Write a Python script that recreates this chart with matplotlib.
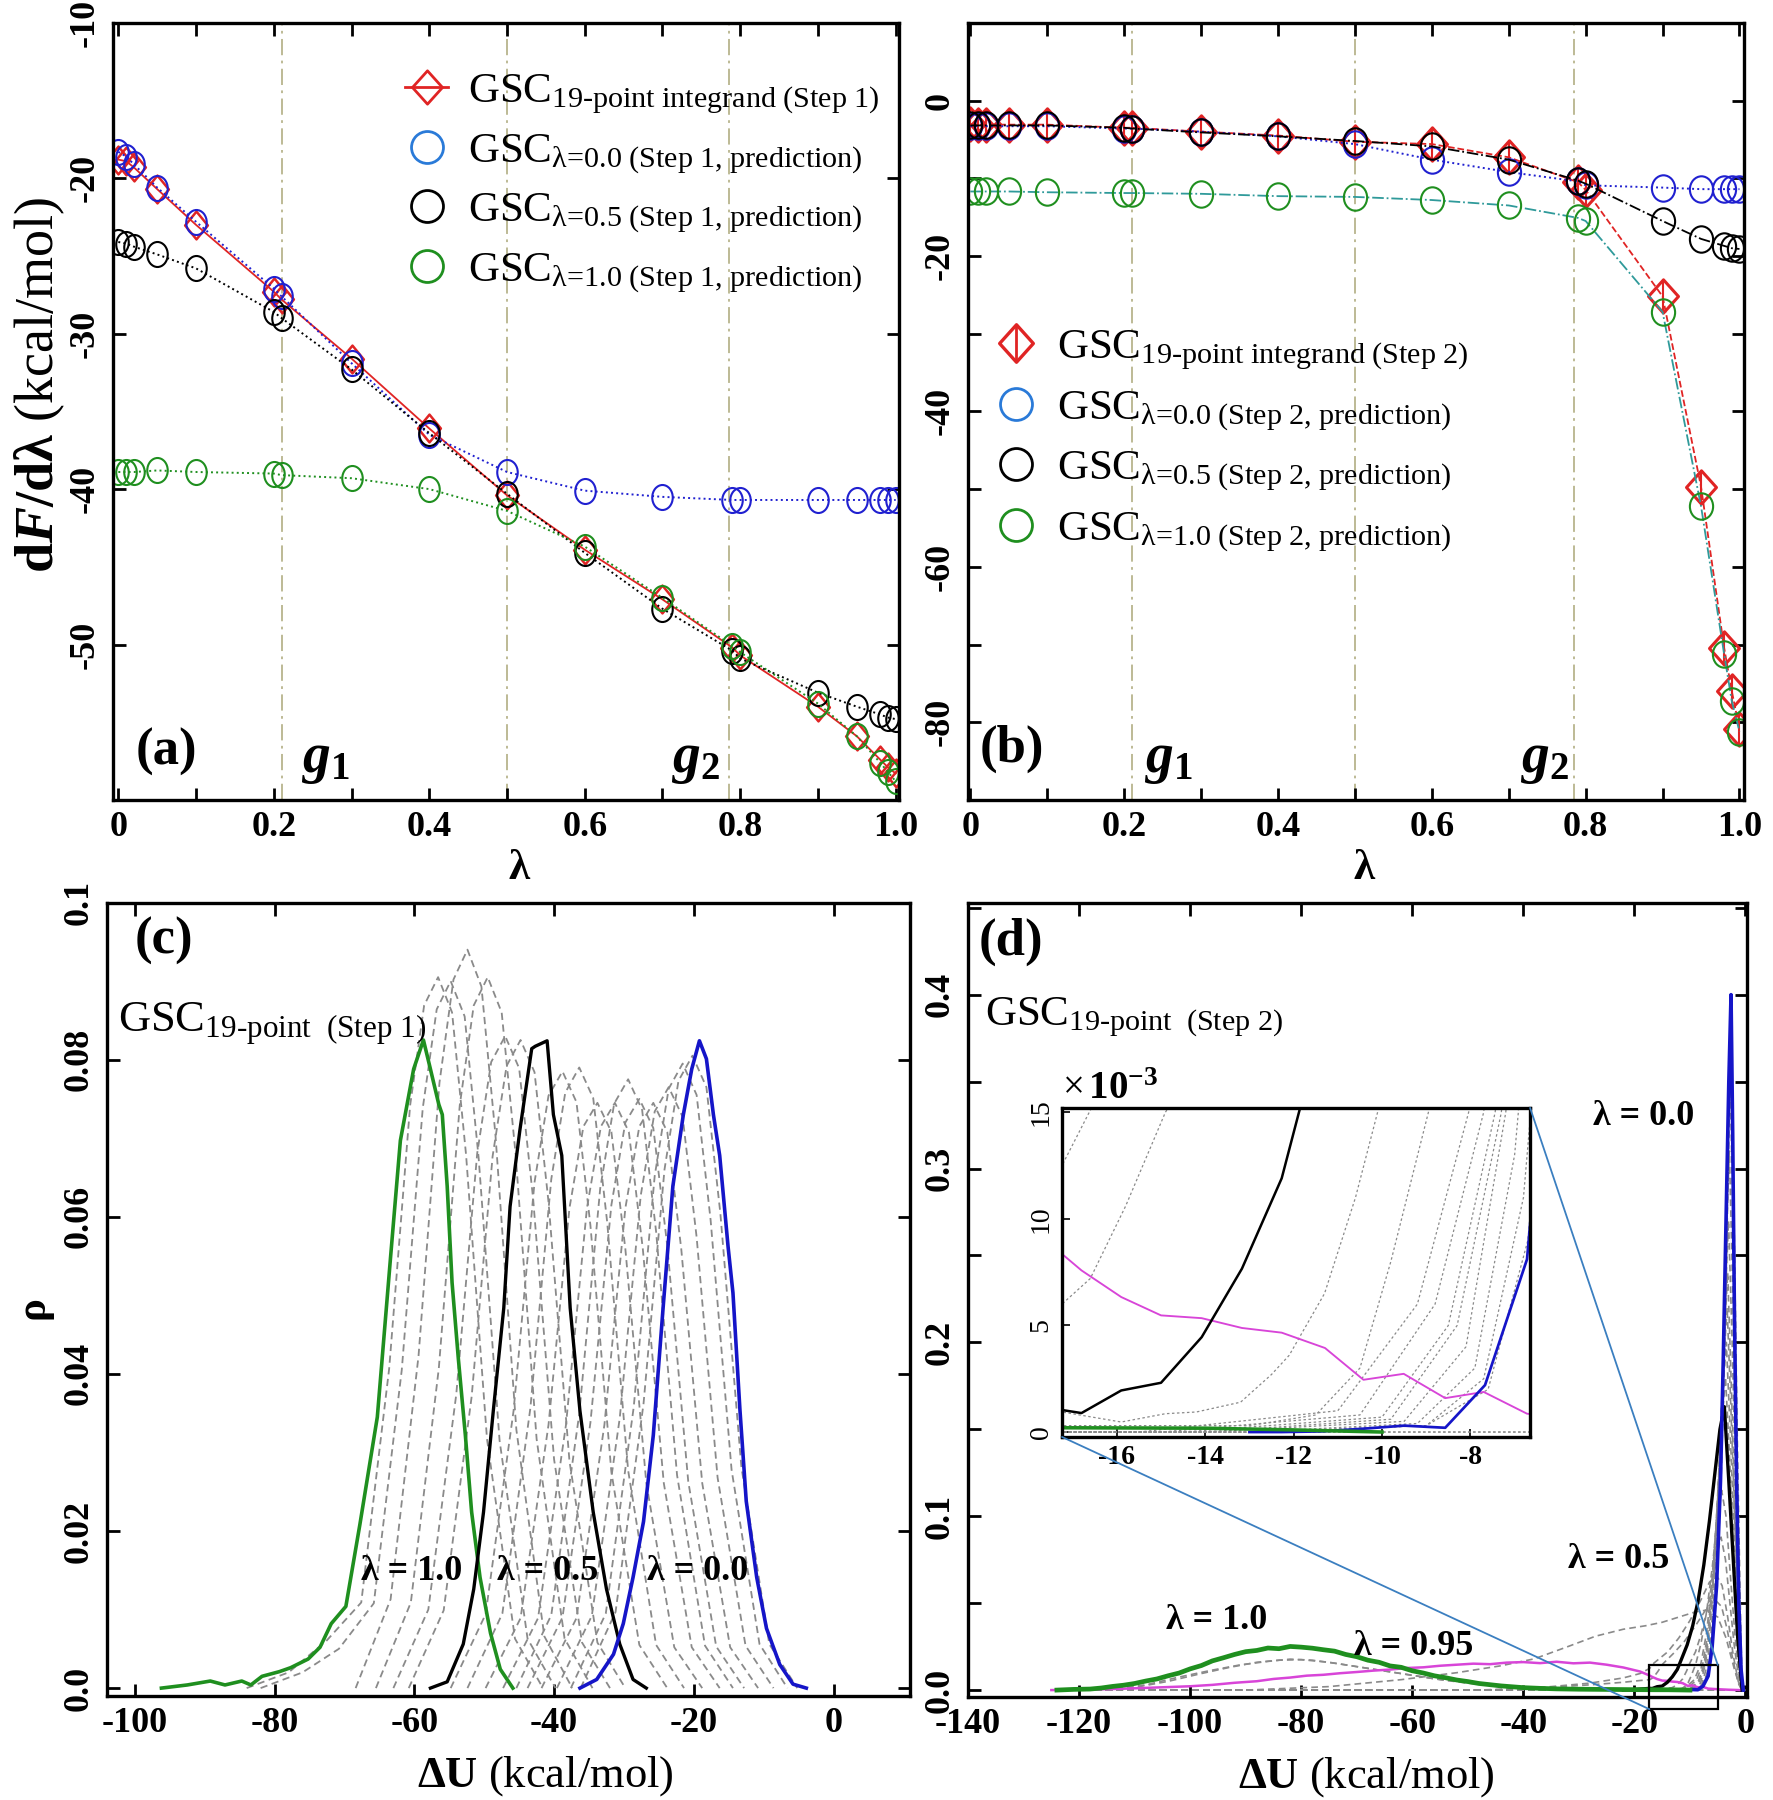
import matplotlib
matplotlib.use("Agg")
import matplotlib.pyplot as plt
import numpy as np
from matplotlib.lines import Line2D
from matplotlib.patches import Rectangle, ConnectionPatch
from matplotlib.path import Path
from matplotlib.transforms import Affine2D

plt.rcParams['font.family'] = ['Liberation Serif', 'DejaVu Serif']
plt.rcParams['mathtext.fontset'] = 'custom'
plt.rcParams['mathtext.rm'] = 'Liberation Serif'
plt.rcParams['mathtext.it'] = 'Liberation Serif:italic'
plt.rcParams['mathtext.bf'] = 'Liberation Serif:bold'
plt.rcParams['mathtext.bfit'] = 'Liberation Serif:italic:bold'

# ---------------- data: panels (a) and (b) ----------------
lam = [0, 0.01, 0.02, 0.05, 0.1, 0.2, 0.21, 0.3, 0.4, 0.5, 0.6, 0.7, 0.79, 0.8, 0.9, 0.95, 0.98, 0.99, 1.0]
g_lines = [0.21, 0.5, 0.785]

s1_integrand = [-18.8, -18.9, -19.3, -20.7, -23.0, -27.3, -27.8, -31.6, -36.1, -40.4, -43.9, -47.1, -50.2, -50.7, -54.0, -55.9, -57.4, -57.9, -58.3]
s1_pred00 = [-18.3, -18.6, -19.1, -20.6, -22.8, -27.1, -27.6, -31.9, -36.5, -38.9, -40.1, -40.5, -40.7, -40.7, -40.7, -40.7, -40.7, -40.7, -40.7]
s1_pred05 = [-24.1, -24.2, -24.4, -24.9, -25.8, -28.6, -29.0, -32.3, -36.4, -40.3, -44.1, -47.7, -50.4, -50.9, -53.1, -54.0, -54.5, -54.7, -54.8]
s1_pred10 = [-38.9, -38.9, -38.9, -38.8, -38.9, -39.0, -39.1, -39.3, -40.0, -41.4, -43.7, -47.0, -50.1, -50.5, -53.8, -55.9, -57.6, -58.2, -58.8]

s2_integrand = [-3.0, -3.1, -3.1, -3.1, -3.1, -3.5, -3.5, -4.0, -4.5, -5.3, -5.6, -7.3, -10.5, -11.5, -25.2, -49.7, -70.4, -76.0, -80.9]
s2_pred00 = [-3.3, -3.3, -3.3, -3.3, -3.3, -3.6, -3.6, -4.0, -4.6, -5.6, -7.6, -9.2, -10.4, -10.9, -11.2, -11.4, -11.4, -11.4, -11.4]
s2_pred05 = [-3.2, -3.2, -3.2, -3.2, -3.2, -3.5, -3.6, -4.1, -4.6, -5.2, -5.9, -7.6, -10.3, -10.7, -15.5, -17.8, -18.7, -19.0, -19.1]
s2_pred10 = [-11.7, -11.7, -11.7, -11.7, -11.8, -11.9, -11.9, -12.0, -12.3, -12.4, -12.8, -13.5, -15.1, -15.5, -27.2, -52.2, -71.2, -77.3, -81.2]

legend_a = [r'GSC$_{\text{19-point integrand (Step 1)}}$',
            r'GSC$_{\text{λ=0.0 (Step 1, prediction)}}$',
            r'GSC$_{\text{λ=0.5 (Step 1, prediction)}}$',
            r'GSC$_{\text{λ=1.0 (Step 1, prediction)}}$']
legend_b = [r'GSC$_{\text{19-point integrand (Step 2)}}$',
            r'GSC$_{\text{λ=0.0 (Step 2, prediction)}}$',
            r'GSC$_{\text{λ=0.5 (Step 2, prediction)}}$',
            r'GSC$_{\text{λ=1.0 (Step 2, prediction)}}$']

# ---------------- data: panel (c), step 1 distributions ----------------
c_green_x = [-96.2, -92.5, -89.2, -87.1, -84.7, -83.4, -81.8, -79.3, -77.7, -75.2, -73.5, -71.9, -69.8, -67.8, -65.3, -63.4, -62.0, -60.1, -58.7, -57.7, -56.5, -56.0, -55.3, -54.6, -53.7, -52.7, -51.8, -50.6, -49.1, -47.7, -45.9]
c_green_y = [0, 0.0004, 0.0009, 0.0004, 0.0009, 0.0004, 0.0015, 0.0021, 0.0026, 0.0037, 0.0052, 0.0082, 0.0104, 0.0208, 0.0345, 0.0549, 0.0697, 0.0788, 0.0825, 0.0788, 0.0743, 0.0730, 0.0639, 0.0516, 0.0419, 0.0322, 0.0224, 0.0141, 0.0070, 0.0024, 0]
c_black_x = [-57.7, -55.3, -53.0, -51.5, -50.1, -48.7, -47.2, -46.3, -44.9, -43.2, -42.7, -41.0, -40.1, -38.9, -37.7, -36.3, -34.4, -32.5, -30.6, -28.7, -26.8]
c_black_y = [0, 0.0008, 0.0056, 0.0126, 0.0224, 0.0353, 0.0484, 0.0613, 0.0710, 0.0814, 0.0817, 0.0824, 0.0730, 0.0678, 0.0484, 0.0353, 0.0224, 0.0126, 0.0056, 0.0011, 0]
c_blue_x = [-36.3, -33.9, -31.5, -30.1, -28.7, -27.2, -25.8, -24.4, -23.0, -21.5, -20.3, -19.2, -18.2, -17.2, -16.3, -15.1, -14.4, -13.4, -12.5, -11.0, -9.6, -7.7, -5.8, -3.9]
c_blue_y = [0, 0.0011, 0.0043, 0.0082, 0.0141, 0.0212, 0.0322, 0.0484, 0.0639, 0.0730, 0.0788, 0.0824, 0.0801, 0.0730, 0.0678, 0.0562, 0.0503, 0.0354, 0.0238, 0.0141, 0.0076, 0.0030, 0.0005, 0]

c_gray = [
    ([-84, -78, -72.6, -67.6, -63.6, -60.6, -58.6, -56.6, -54.6, -52.6, -49.6, -45.6, -41.6],
     [0, 0.002, 0.006, 0.0109, 0.0407, 0.0742, 0.0869, 0.0905, 0.086, 0.0679, 0.0317, 0.0063, 0]),
    ([-82, -76, -70.8, -65.8, -61.8, -58.8, -56.8, -54.8, -52.8, -50.8, -47.8, -43.8, -39.8],
     [0, 0.002, 0.005, 0.0108, 0.0405, 0.0738, 0.0864, 0.090, 0.0855, 0.0675, 0.0315, 0.0063, 0]),
    ([-68.4, -63.4, -59.4, -56.4, -54.4, -52.4, -50.4, -48.4, -45.4, -41.4, -37.4],
     [0, 0.0113, 0.0423, 0.0771, 0.0902, 0.094, 0.0893, 0.0705, 0.0329, 0.0066, 0]),
    ([-65.5, -60.5, -56.5, -53.5, -51.5, -49.5, -47.5, -45.5, -42.5, -38.5, -34.5],
     [0, 0.0109, 0.0407, 0.0742, 0.0869, 0.0905, 0.086, 0.0679, 0.0317, 0.0063, 0]),
    ([-63, -58, -54, -51, -49, -47, -45, -43, -40, -36, -32],
     [0, 0.010, 0.0374, 0.0681, 0.0797, 0.083, 0.0789, 0.0623, 0.0291, 0.0058, 0]),
    ([-60.8, -55.8, -51.8, -48.8, -46.8, -44.8, -42.8, -40.8, -37.8, -33.8, -29.8],
     [0, 0.0099, 0.0371, 0.0677, 0.0792, 0.0825, 0.0784, 0.0619, 0.0289, 0.0058, 0]),
    ([-54.8, -49.8, -45.8, -42.8, -40.8, -38.8, -36.8, -34.8, -31.8, -27.8, -23.8],
     [0, 0.0094, 0.0353, 0.0644, 0.0754, 0.0785, 0.0746, 0.0589, 0.0275, 0.0055, 0]),
    ([-52.4, -47.4, -43.4, -40.4, -38.4, -36.4, -34.4, -32.4, -29.4, -25.4, -21.4],
     [0, 0.0095, 0.0356, 0.0648, 0.0758, 0.079, 0.0751, 0.0593, 0.0277, 0.0055, 0]),
    ([-49.8, -44.8, -40.8, -37.8, -35.8, -33.8, -31.8, -29.8, -26.8, -22.8, -18.8],
     [0, 0.0089, 0.0335, 0.0611, 0.0715, 0.0745, 0.0708, 0.0559, 0.0261, 0.0052, 0]),
    ([-47.3, -42.3, -38.3, -35.3, -33.3, -31.3, -29.3, -27.3, -24.3, -20.3, -16.3],
     [0, 0.0089, 0.0335, 0.0611, 0.0715, 0.0745, 0.0708, 0.0559, 0.0261, 0.0052, 0]),
    ([-45.4, -40.4, -36.4, -33.4, -31.4, -29.4, -27.4, -25.4, -22.4, -18.4, -14.4],
     [0, 0.0093, 0.0349, 0.0636, 0.0744, 0.0775, 0.0736, 0.0581, 0.0271, 0.0054, 0]),
    ([-43.8, -38.8, -34.8, -31.8, -29.8, -27.8, -25.8, -23.8, -20.8, -16.8, -12.8],
     [0, 0.009, 0.0338, 0.0615, 0.072, 0.075, 0.0713, 0.0563, 0.0263, 0.0053, 0]),
    ([-41.8, -36.8, -32.8, -29.8, -27.8, -25.8, -23.8, -21.8, -18.8, -14.8, -10.8],
     [0, 0.0089, 0.0335, 0.0611, 0.0715, 0.0745, 0.0708, 0.0559, 0.0261, 0.0052, 0]),
    ([-39.6, -34.6, -30.6, -27.6, -25.6, -23.6, -21.6, -19.6, -16.6, -12.6, -8.6],
     [0, 0.0092, 0.0344, 0.0627, 0.0734, 0.0765, 0.0727, 0.0574, 0.0268, 0.0054, 0]),
    ([-37.6, -32.6, -28.6, -25.6, -23.6, -21.6, -19.6, -17.6, -14.6, -10.6, -6.6],
     [0, 0.0095, 0.0358, 0.0652, 0.0763, 0.0795, 0.0755, 0.0596, 0.0278, 0.0056, 0]),
    ([-36.2, -31.2, -27.2, -24.2, -22.2, -20.2, -18.2, -16.2, -13.2, -9.2, -5.2],
     [0, 0.0097, 0.0362, 0.066, 0.0773, 0.0805, 0.0765, 0.0604, 0.0282, 0.0056, 0]),
]

# ---------------- data: panel (d), step 2 distributions ----------------
d_green_x = [-124, -121, -118, -116, -114, -112, -110, -108, -106, -104, -102, -100, -98, -96, -94, -92, -90, -88, -86, -84, -82, -80, -78, -76, -74, -72, -70, -68, -66, -64, -62, -60, -58, -56, -54, -52, -50, -48, -46, -44, -42, -40, -37, -34, -30, -26, -22, -20, -17.2, -14, -12, -10]
d_green_y = [0, 0.0004, 0.0006, 0.0012, 0.0021, 0.0028, 0.0038, 0.0052, 0.0064, 0.0082, 0.0098, 0.0122, 0.0141, 0.0168, 0.0186, 0.0205, 0.0221, 0.0228, 0.0242, 0.0238, 0.0251, 0.0247, 0.0241, 0.0232, 0.0224, 0.0205, 0.0192, 0.0172, 0.016, 0.0139, 0.0131, 0.0111, 0.0098, 0.0082, 0.0071, 0.0058, 0.0049, 0.0038, 0.0031, 0.0024, 0.0019, 0.0014, 0.001, 0.0007, 0.0005, 0.0004, 0.0003, 0.00025, 0.0002, 0.00018, 0.0001, 0]
d_mag_x = [-125, -118, -112, -106, -100, -96, -92, -88, -85, -82, -79, -76, -73, -70, -67, -64, -61, -58, -55, -52, -49, -46, -43, -40, -37, -34, -31, -28, -25, -22, -19, -17.2, -16.8, -15.9, -15.0, -14.08, -13.17, -12.27, -11.29, -10.42, -9.51, -8.57, -7.7, -6.72, -5, -3, -1]
d_mag_y = [0, 0.0003, 0.0008, 0.0015, 0.0022, 0.003, 0.0042, 0.0051, 0.0064, 0.0072, 0.0083, 0.0088, 0.0097, 0.0104, 0.0112, 0.0118, 0.0127, 0.0131, 0.014, 0.0146, 0.0152, 0.0149, 0.0158, 0.0161, 0.0155, 0.0163, 0.0154, 0.0158, 0.0146, 0.013, 0.0107, 0.00828, 0.00758, 0.00633, 0.00547, 0.00534, 0.00488, 0.00466, 0.00394, 0.00245, 0.00273, 0.00159, 0.00188, 0.00086, 0.0005, 0.0002, 0]
d_black_x = [-22, -20, -17.2, -16.8, -15.9, -15.0, -14.08, -13.17, -12.27, -11.5, -10.5, -9.5, -8.5, -7.5, -6.5, -5.5, -4.6, -3.8, -3.0, -2.2, -1.4, -0.6]
d_black_y = [0, 0.0003, 0.00102, 0.00089, 0.00195, 0.00231, 0.00445, 0.00766, 0.0119, 0.018, 0.026, 0.037, 0.052, 0.072, 0.097, 0.125, 0.15, 0.163, 0.12, 0.075, 0.03, 0]
d_blue_x = [-13, -12.27, -11.36, -10.4, -9.5, -8.57, -7.67, -6.72, -6.0, -5.2, -4.5, -4.0, -3.5, -3.0, -2.6, -2.3, -2.0, -1.6, -1.2, -0.8, -0.4]
d_blue_y = [0, 0, 0.00003, 0.00016, 0.0003, 0.0002, 0.0022, 0.0081, 0.025, 0.06, 0.12, 0.19, 0.27, 0.35, 0.40, 0.32, 0.22, 0.12, 0.05, 0.012, 0]

d_gray = [
    ([-125, -13, -9, -7.6, -6.7, -6.0, -5.2, -4.4, -3.7, -3.1, -2.65, -2.1, -1.5, -1.0, -0.6],
     [0, 0, 0.0003, 0.002, 0.009, 0.025, 0.06, 0.12, 0.2, 0.3, 0.38, 0.28, 0.15, 0.06, 0]),
    ([-125, -13, -9, -7.7, -6.8, -6.1, -5.3, -4.5, -3.8, -3.2, -2.75, -2.2, -1.6, -1.05, -0.6],
     [0, 0, 0.0003, 0.0025, 0.011, 0.028, 0.065, 0.125, 0.21, 0.3, 0.35, 0.26, 0.14, 0.055, 0]),
    ([-125, -13, -9.2, -7.9, -7.0, -6.2, -5.4, -4.6, -3.9, -3.35, -2.9, -2.3, -1.7, -1.1, -0.6],
     [0, 0, 0.0004, 0.003, 0.013, 0.032, 0.07, 0.13, 0.2, 0.27, 0.31, 0.23, 0.13, 0.05, 0]),
    ([-125, -14, -9.5, -8.1, -7.2, -6.4, -5.6, -4.8, -4.1, -3.5, -3.05, -2.4, -1.8, -1.2, -0.6],
     [0, 0, 0.0005, 0.004, 0.015, 0.035, 0.07, 0.12, 0.18, 0.235, 0.27, 0.2, 0.12, 0.045, 0]),
    ([-125, -14, -9.8, -8.3, -7.3, -6.5, -5.7, -4.9, -4.2, -3.7, -3.2, -2.5, -1.9, -1.2, -0.6],
     [0, 0, 0.0006, 0.005, 0.015, 0.035, 0.068, 0.115, 0.17, 0.21, 0.24, 0.17, 0.1, 0.04, 0]),
    ([-125, -14.5, -10, -8.5, -7.44, -6.6, -5.8, -5.0, -4.3, -3.8, -3.3, -2.6, -1.9, -1.2, -0.6],
     [0, 0, 0.0007, 0.005, 0.015, 0.034, 0.065, 0.11, 0.16, 0.195, 0.22, 0.16, 0.095, 0.035, 0]),
    ([-125, -15, -10.5, -8.8, -7.7, -6.8, -6.0, -5.2, -4.5, -3.95, -3.45, -2.7, -2.0, -1.3, -0.6],
     [0, 0, 0.0008, 0.006, 0.015, 0.032, 0.06, 0.1, 0.145, 0.178, 0.2, 0.145, 0.085, 0.03, 0]),
    ([-125, -15.5, -11, -9.2, -8.04, -7.0, -6.1, -5.3, -4.6, -4.1, -3.6, -2.8, -2.1, -1.3, -0.6],
     [0, 0, 0.001, 0.006, 0.015, 0.033, 0.06, 0.095, 0.13, 0.16, 0.18, 0.13, 0.075, 0.027, 0]),
    ([-125, -22, -17.24, -13, -11.5, -10.5, -9.8, -8.95, -8.0, -7.0, -6.0, -5.0, -4.3, -3.5, -2.7, -1.9, -1.2, -0.6],
     [0, 0, 0.0003, 0.0003, 0.0008, 0.003, 0.008, 0.015, 0.027, 0.045, 0.07, 0.1, 0.115, 0.1, 0.065, 0.032, 0.01, 0]),
    ([-125, -28, -17.24, -15.9, -14.9, -14.2, -13.2, -12.5, -12.1, -11.3, -10.6, -10.1, -9.0, -8.0, -7.0, -6.0, -5.0, -4.4, -3.6, -2.8, -2.0, -1.2, -0.6],
     [0, 0, 0.00094, 0.00047, 0.00086, 0.00094, 0.0014, 0.0027, 0.0036, 0.0065, 0.011, 0.015, 0.022, 0.032, 0.045, 0.062, 0.08, 0.088, 0.075, 0.05, 0.025, 0.007, 0]),
    ([-125, -45, -35, -28, -22, -19, -17.24, -16.5, -14, -12, -10, -8, -6.5, -5.2, -4.2, -3.2, -2.2, -1.3, -0.6],
     [0, 0, 0.002, 0.004, 0.007, 0.0095, 0.0125, 0.0155, 0.022, 0.03, 0.04, 0.052, 0.062, 0.066, 0.06, 0.042, 0.02, 0.005, 0]),
    ([-125, -48, -36, -28, -22, -19, -17.24, -16.6, -15.8, -14.9, -13, -11, -9, -7, -5.5, -4.3, -3.3, -2.3, -1.3, -0.6],
     [0, 0, 0.0015, 0.003, 0.0045, 0.0055, 0.006, 0.0072, 0.0106, 0.015, 0.021, 0.028, 0.037, 0.047, 0.052, 0.048, 0.035, 0.018, 0.004, 0]),
    ([-125, -90, -75, -62, -52, -44, -38, -32, -27, -22, -18, -15, -12, -9, -7, -5, -3.5, -2, -1, -0.5],
     [0, 0, 0.002, 0.006, 0.01, 0.014, 0.018, 0.025, 0.031, 0.035, 0.037, 0.039, 0.042, 0.045, 0.046, 0.042, 0.03, 0.012, 0.002, 0]),
    ([-125, -118, -110, -104, -98, -93, -88, -84, -80, -75, -70, -65, -60, -55, -50, -44, -38, -30, -20, 0],
     [0, 0, 0.0015, 0.005, 0.0095, 0.013, 0.016, 0.0172, 0.0175, 0.016, 0.0135, 0.011, 0.0085, 0.006, 0.004, 0.002, 0.001, 0.0003, 0, 0]),
    ([-125, -115, -108, -102, -96, -91, -86, -82, -78, -73, -68, -62, -56, -50, -44, -38, -30, -20, 0],
     [0, 0.0005, 0.003, 0.0075, 0.0115, 0.0145, 0.0165, 0.0178, 0.0172, 0.015, 0.0125, 0.0095, 0.0065, 0.0042, 0.0022, 0.0011, 0.0003, 0, 0]),
]

RED = '#e02424'
BLUE = '#2020d0'
BLUE_LEG = '#2a7ad8'
GREEN = '#1f8f1f'
TEAL = '#2f9a9a'
VLINE = '#b8b48c'
GRAY = '#8a8a8a'
MAGENTA = '#d845d8'

TICK_FS = 26


def oval(ratio):
    """Unit circle squeezed horizontally, used as a marker."""
    return Path.unit_circle().transformed(Affine2D().scale(ratio, 1.0))


def diamond(ratio):
    return Path([(0, 1), (ratio, 0), (0, -1), (-ratio, 0), (0, 1)],
                [Path.MOVETO, Path.LINETO, Path.LINETO, Path.LINETO, Path.CLOSEPOLY])


def style_axes(ax, tick_len=9):
    for sp in ax.spines.values():
        sp.set_linewidth(2.4)
    ax.tick_params(direction='in', length=tick_len, width=2, top=True, right=True, pad=8)


def set_ticks(ax, xt, xl, yt, yl, fs=TICK_FS):
    ax.set_xticks(xt, xl, fontsize=fs, fontweight='bold')
    ax.set_yticks(yt, yl, fontsize=fs, fontweight='bold', rotation=90, va='center')


def draw_panel_a(ax):
    circ = oval(0.82)
    dmd = diamond(0.82)
    for xv in g_lines:
        ax.axvline(xv, color=VLINE, ls=(0, (9, 3, 1.5, 3)), lw=1.3, zorder=0)
    ax.plot(lam, s1_integrand, color=RED, lw=1.3, marker=dmd, ms=20, mfc='none', mew=1.8)
    ax.plot(lam, s1_pred00, color=BLUE, ls=':', lw=1.4, marker=circ, ms=18, mfc='none', mew=1.5)
    ax.plot(lam, s1_pred05, color='black', ls=':', lw=1.4, marker=circ, ms=18, mfc='none', mew=1.5)
    ax.plot(lam, s1_pred10, color=GREEN, ls=':', lw=1.4, marker=circ, ms=18, mfc='none', mew=1.5)
    ax.set_xlim(-0.0074, 1.0044)
    ax.set_ylim(-60, -10)
    style_axes(ax)
    set_ticks(ax, np.arange(0, 1.01, 0.1),
              ['0', '', '0.2', '', '0.4', '', '0.6', '', '0.8', '', '1.0'],
              [-50, -40, -30, -20, -10], ['-50', '-40', '-30', '-20', '-10'])

    handles = [Line2D([], [], color=RED, lw=2, marker=diamond(0.9), ms=24, mfc='none', mew=2),
               Line2D([], [], ls='none', marker='o', ms=23, mfc='none', mec=BLUE_LEG, mew=2),
               Line2D([], [], ls='none', marker='o', ms=23, mfc='none', mec='black', mew=2),
               Line2D([], [], ls='none', marker='o', ms=23, mfc='none', mec=GREEN, mew=2)]
    ax.legend(handles, legend_a, loc='upper left', bbox_to_anchor=(0.372, 0.937),
              frameon=False, fontsize=31, handlelength=1.0, handletextpad=0.45,
              labelspacing=0.36, borderpad=0, borderaxespad=0)

    ax.text(0.029, 0.062, '(a)', transform=ax.transAxes, fontsize=38,
            fontweight='bold', va='center', ha='left')
    ax.text(0.266, -57.4, r'$\mathbfit{g}_{\mathbf{1}}$', fontsize=40, ha='center', va='center')
    ax.text(0.743, -57.4, r'$\mathbfit{g}_{\mathbf{2}}$', fontsize=40, ha='center', va='center')
    ax.set_xlabel('λ', fontsize=31, fontweight='bold')
    ax.xaxis.set_label_coords(0.517, -0.064)
    ax.set_ylabel(r'$\mathbf{d}\mathbfit{F}\mathbf{/d\lambda}$ (kcal/mol)', fontsize=39)
    ax.yaxis.set_label_coords(-0.058, 0.534)


def draw_panel_b(ax):
    circ = oval(0.88)
    dmd = diamond(0.9)
    for xv in g_lines:
        ax.axvline(xv, color=VLINE, ls=(0, (9, 3, 1.5, 3)), lw=1.3, zorder=0)
    ax.plot(lam, s2_integrand, color=RED, ls='--', lw=1.3, marker=dmd, ms=24, mfc='none', mew=2.2)
    ax.plot(lam, s2_integrand, ls='none', color=RED, marker='|', ms=22, mew=1.5)
    ax.plot(lam, s2_pred00, color=BLUE, ls=':', lw=1.4, marker=circ, ms=19, mfc='none', mew=1.5)
    ax.plot(lam, s2_pred05, color='black', ls='-.', lw=1.3, marker=circ, ms=19, mfc='none', mew=1.5)
    ax.plot(lam, s2_pred10, color=TEAL, ls='-.', lw=1.3)
    ax.plot(lam, s2_pred10, ls='none', marker=circ, ms=19, mfc='none', mec=GREEN, mew=1.5)
    ax.set_xlim(-0.003, 1.006)
    ax.set_ylim(-90, 10)
    style_axes(ax)
    ax.set_yticks(np.arange(-80, 1, 10), minor=True)
    ax.tick_params(which='minor', direction='in', length=9, width=2, right=True, left=True)
    set_ticks(ax, np.arange(0, 1.01, 0.1),
              ['0', '', '0.2', '', '0.4', '', '0.6', '', '0.8', '', '1.0'],
              [-80, -60, -40, -20, 0], ['-80', '-60', '-40', '-20', '0'])

    handles = [(Line2D([], [], ls='none', marker=diamond(0.9), ms=27, mfc='none', mec=RED, mew=2.4),
                Line2D([], [], ls='none', marker='|', ms=26, mec=RED, mew=2)),
               Line2D([], [], ls='none', marker='o', ms=23, mfc='none', mec=BLUE_LEG, mew=2),
               Line2D([], [], ls='none', marker='o', ms=23, mfc='none', mec='black', mew=2),
               Line2D([], [], ls='none', marker='o', ms=23, mfc='none', mec=GREEN, mew=2)]
    ax.legend(handles, legend_b, loc='upper left', bbox_to_anchor=(0.034, 0.607),
              frameon=False, fontsize=31, handlelength=1.0, handletextpad=0.45,
              labelspacing=0.38, borderpad=0, borderaxespad=0)

    ax.text(0.015, 0.066, '(b)', transform=ax.transAxes, fontsize=38,
            fontweight='bold', va='center', ha='left')
    ax.text(0.258, -84.8, r'$\mathbfit{g}_{\mathbf{1}}$', fontsize=40, ha='center', va='center')
    ax.text(0.746, -84.8, r'$\mathbfit{g}_{\mathbf{2}}$', fontsize=40, ha='center', va='center')
    ax.set_xlabel('λ', fontsize=31, fontweight='bold')
    ax.xaxis.set_label_coords(0.51, -0.064)


def draw_panel_c(ax):
    for xs, ys in c_gray:
        ax.plot(xs, ys, color=GRAY, ls=(0, (4, 2.5)), lw=1.3)
    ax.plot(c_green_x, c_green_y, color=GREEN, lw=2.6)
    ax.plot(c_black_x, c_black_y, color='black', lw=2.4)
    ax.plot(c_blue_x, c_blue_y, color='#1515c8', lw=2.6)
    ax.set_xlim(-104, 11)
    ax.set_ylim(-0.001, 0.1)
    style_axes(ax)
    set_ticks(ax, [-100, -80, -60, -40, -20, 0], ['-100', '-80', '-60', '-40', '-20', '0'],
              [0, 0.02, 0.04, 0.06, 0.08, 0.1], ['0.0', '0.02', '0.04', '0.06', '0.08', '0.1'])

    ax.text(0.035, 0.951, '(c)', transform=ax.transAxes, fontsize=38,
            fontweight='bold', va='center', ha='left')
    ax.text(0.014, 0.838, r'GSC$_{\text{19-point  (Step 1)}}$', transform=ax.transAxes,
            fontsize=32, va='baseline', ha='left')
    for xt, txt in [(-60.4, 'λ = 1.0'), (-40.9, 'λ = 0.5'), (-19.4, 'λ = 0.0')]:
        ax.text(xt, 0.0149, txt, fontsize=26, fontweight='bold', ha='center', va='center')
    ax.set_xlabel(r'$\mathbf{\Delta U}$ (kcal/mol)', fontsize=32)
    ax.xaxis.set_label_coords(0.545, -0.073)
    ax.set_ylabel('ρ', fontsize=31, fontweight='bold')
    ax.yaxis.set_label_coords(-0.068, 0.49)


def draw_d_curves(ax, lw_scale=1.0, gray_ls=(0, (4, 2.5))):
    for xs, ys in d_gray:
        ax.plot(xs, ys, color=GRAY, ls=gray_ls, lw=1.2 * lw_scale)
    ax.plot(d_mag_x, d_mag_y, color=MAGENTA, lw=1.8 * lw_scale)
    ax.plot(d_black_x, d_black_y, color='black', lw=2.4 * lw_scale)
    ax.plot(d_blue_x, d_blue_y, color='#1515c8', lw=2.6 * lw_scale)
    ax.plot(d_green_x, d_green_y, color=GREEN, lw=3.4 * lw_scale)


def draw_panel_d(fig, ax, inset_rect):
    draw_d_curves(ax)
    ax.set_xlim(-140, 0.2)
    ax.set_ylim(-0.004, 0.453)
    style_axes(ax)
    set_ticks(ax, [-140, -120, -100, -80, -60, -40, -20, 0],
              ['-140', '-120', '-100', '-80', '-60', '-40', '-20', '0'],
              np.arange(0, 0.451, 0.05),
              ['0.0', '', '0.1', '', '0.2', '', '0.3', '', '0.4', ''])

    ax.text(0.014, 0.951, '(d)', transform=ax.transAxes, fontsize=38,
            fontweight='bold', va='center', ha='left')
    ax.text(0.022, 0.846, r'GSC$_{\text{19-point  (Step 2)}}$', transform=ax.transAxes,
            fontsize=31, va='baseline', ha='left')
    for xt, yt, txt in [(-18.3, 0.33, 'λ = 0.0'), (-22.8, 0.075, 'λ = 0.5'),
                        (-95.2, 0.040, 'λ = 1.0'), (-59.8, 0.025, 'λ = 0.95')]:
        ax.text(xt, yt, txt, fontsize=26, fontweight='bold', ha='center', va='center')
    ax.set_xlabel(r'$\mathbf{\Delta U}$ (kcal/mol)', fontsize=32)
    ax.xaxis.set_label_coords(0.511, -0.073)

    # zoom box and inset
    box_x0, box_x1, box_y0, box_y1 = -17.3, -5.0, -0.011, 0.0145
    ax.add_patch(Rectangle((box_x0, box_y0), box_x1 - box_x0, box_y1 - box_y0,
                           fill=False, ec='black', lw=1.6, clip_on=False, zorder=5))

    ins = fig.add_axes(inset_rect)
    draw_d_curves(ins, lw_scale=0.75, gray_ls=(0, (2, 2)))
    ins.set_xlim(-17.24, -6.65)
    ins.set_ylim(-0.00023, 0.0152)
    for sp in ins.spines.values():
        sp.set_linewidth(2.4)
    ins.tick_params(direction='in', length=6, width=1.2, pad=6)
    ins.set_xticks([-16, -14, -12, -10, -8], ['-16', '-14', '-12', '-10', '-8'],
                   fontsize=20, fontweight='bold')
    ins.set_yticks([0, 0.005, 0.01, 0.015], ['0', '5', '10', '15'], fontsize=20,
                   rotation=90, va='center')
    ins.text(0.0, 1.0, r'$\times\,\mathbf{10^{-3}}$', transform=ins.transAxes,
             fontsize=28, ha='left', va='bottom')

    for xy_a, xy_b in [((1, 1), (box_x1, box_y1)), ((0, 0), (box_x0, box_y0))]:
        con = ConnectionPatch(xyA=xy_a, coordsA=ins.transAxes, xyB=xy_b, coordsB=ax.transData,
                              color='#3b7fc0', lw=1.3, zorder=4)
        fig.add_artist(con)


def main():
    fig = plt.figure(figsize=(17.73, 18.0), dpi=100)
    ax_a = fig.add_axes([0.0635, 0.5556, 0.4436, 0.4317])
    ax_b = fig.add_axes([0.546, 0.5556, 0.4377, 0.4317])
    ax_c = fig.add_axes([0.0603, 0.0578, 0.4532, 0.4408])
    ax_d = fig.add_axes([0.546, 0.0572, 0.4391, 0.4414])

    draw_panel_a(ax_a)
    draw_panel_b(ax_b)
    draw_panel_c(ax_c)
    draw_panel_d(fig, ax_d, [0.599, 0.2017, 0.264, 0.1828])

    fig.savefig('out.png', dpi=100, facecolor='white')
    plt.close(fig)


if __name__ == "__main__":
    main()
